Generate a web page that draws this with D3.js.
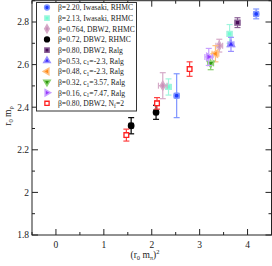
<!DOCTYPE html>
<html><head><meta charset="utf-8">
<script src="https://cdn.jsdelivr.net/npm/d3@7"></script>
<style>body{margin:0;background:#fff}svg{display:block}text{font-family:"Liberation Serif","Times New Roman",serif}</style>
</head><body><svg id="c" width="272" height="266"></svg>
<script>
// data: [x, y, xerr, yerr]
const iwasaki220 = [[4.18, 2.838, 0.05, 0.023], [2.52, 2.454, 0.05, 0.103]];
const iwasaki213 = [[3.625, 2.744, 0.05, 0.044], [2.35, 2.495, 0.06, 0.038]];
const dbw2_0764 = [[3.41, 2.689, 0.07, 0.03], [2.23, 2.501, 0.09, 0.061]];
const dbw2_072 = [[1.57, 2.313, 0.04, 0.038], [2.09, 2.376, 0.04, 0.033]];
const dbw2_080ralg = [[3.79, 2.797, 0.05, 0.023]];
const c1_053 = [[3.654, 2.695, 0.06, 0.033]];
const c1_048 = [[3.33, 2.651, 0.07, 0.038]];
const c1_032 = [[3.23, 2.606, 0.06, 0.03]];
const c1_016 = [[3.19, 2.636, 0.08, 0.04]];
const dbw2_nf2 = [[1.47, 2.269, 0.04, 0.028], [2.11, 2.418, 0.04, 0.027], [2.79, 2.579, 0.04, 0.034]];

const seriesLabels = [
  ["β=2.20, Iwasaki, RHMC"],
  ["β=2.13, Iwasaki, RHMC"],
  ["β=0.764, DBW2, RHMC"],
  ["β=0.72, DBW2, RHMC"],
  ["β=0.80, DBW2, Ralg"],
  ["β=0.53, c", "1", "=-2.3, Ralg"],
  ["β=0.48, c", "1", "=-2.3, Ralg"],
  ["β=0.32, c", "1", "=3.57, Ralg"],
  ["β=0.16, c", "1", "=7.47, Ralg"],
  ["β=0.80, DBW2, N", "f", "=2"]
];
const seriesData = [iwasaki220, iwasaki213, dbw2_0764, dbw2_072, dbw2_080ralg, c1_053, c1_048, c1_032, c1_016, dbw2_nf2];
const xTicks = [0, 1, 2, 3, 4];
const yTicks = [1.8, 2.0, 2.2, 2.4, 2.6, 2.8];

const styles = [
  {c: "#1f3dff", e: "#7f95ff", sym: d3.symbolCircle, fill: true},
  {c: "#6fffd0", e: "#9ff5dd", sym: d3.symbolSquare, fill: true},
  {c: "#c88fb8", e: "#d6aac8", sym: d3.symbolDiamond, fill: true},
  {c: "#000000", e: "#000000", sym: d3.symbolCircle, fill: true},
  {c: "#4a0f5a", e: "#8a6095", sym: d3.symbolSquare, fill: true},
  {c: "#3a2cff", e: "#9a90ff", sym: d3.symbolTriangle, fill: true, rot: 0},
  {c: "#ff8a1a", e: "#ffc080", sym: d3.symbolTriangle, fill: true, rot: -90},
  {c: "#2f9a10", e: "#8ad070", sym: d3.symbolTriangle, fill: true, rot: 180},
  {c: "#9a3cff", e: "#c8a0ff", sym: d3.symbolTriangle, fill: true, rot: 90},
  {c: "#ff2020", e: "#ff4040", sym: d3.symbolSquare, fill: false}
];

const svg = d3.select("#c");
const L = 32, R = 271.5, T = 0.7, B = 235;
const x = d3.scaleLinear().domain([-0.5, 4.5]).range([L, R]);
const y = d3.scaleLinear().domain([1.8, 2.9]).range([B, T]);

// frame
svg.append("rect").attr("x", L).attr("y", T).attr("width", R - L).attr("height", B - T)
  .attr("fill", "none").attr("stroke", "#222").attr("stroke-width", 1);

// ticks
const xMinor = d3.range(-0.5, 4.51, 0.5);
const yMinor = d3.range(1.8, 2.91, 0.1);
const tk = svg.append("g").attr("stroke", "#222").attr("stroke-width", 1);
xMinor.forEach(v => {
  const major = Math.abs(v - Math.round(v)) < 1e-6;
  const len = major ? 6 : 3;
  tk.append("line").attr("x1", x(v)).attr("x2", x(v)).attr("y1", B).attr("y2", B - len);
  tk.append("line").attr("x1", x(v)).attr("x2", x(v)).attr("y1", T).attr("y2", T + len);
});
yMinor.forEach(v => {
  const major = Math.abs(v * 5 - Math.round(v * 5)) < 1e-6;
  const len = major ? 6 : 3;
  tk.append("line").attr("y1", y(v)).attr("y2", y(v)).attr("x1", L).attr("x2", L + len);
  tk.append("line").attr("y1", y(v)).attr("y2", y(v)).attr("x1", R).attr("x2", R - len);
});

svg.append("g").selectAll("text").data(xTicks).join("text")
  .attr("x", d => x(d)).attr("y", 248).attr("text-anchor", "middle")
  .attr("font-size", 9.5).attr("fill", "#222").text(d => d);
svg.append("g").selectAll("text").data(yTicks).join("text")
  .attr("x", 29).attr("y", d => y(d) + 3.3).attr("text-anchor", "end")
  .attr("font-size", 9.5).attr("fill", "#222").text(d => d3.format("~g")(d));

// axis titles
const xt = svg.append("text").attr("x", 145).attr("y", 258).attr("text-anchor", "middle")
  .attr("font-size", 9.5).attr("fill", "#222");
xt.append("tspan").text("(r");
xt.append("tspan").attr("font-size", 6.5).attr("dy", 2).text("0");
xt.append("tspan").attr("dy", -2).text(" m");
xt.append("tspan").attr("font-size", 6.5).attr("dy", 2).text("π");
xt.append("tspan").attr("dy", -2).text(")");
xt.append("tspan").attr("font-size", 6.5).attr("dy", -4).text("2");

const yt = svg.append("text").attr("transform", "translate(11,116) rotate(-90)")
  .attr("text-anchor", "middle").attr("font-size", 9.5).attr("fill", "#222");
yt.append("tspan").text("r");
yt.append("tspan").attr("font-size", 6.5).attr("dy", 2).text("0");
yt.append("tspan").attr("dy", -2).text(" m");
yt.append("tspan").attr("font-size", 6.5).attr("dy", 2).text("ρ");

// data
const sz = 22;
function marker(g, s, cx, cy, size) {
  g.append("path")
    .attr("d", d3.symbol().type(s.sym).size(size)())
    .attr("transform", `translate(${cx},${cy}) rotate(${s.rot || 0})`)
    .attr("fill", s.fill ? s.c : "#fff")
    .attr("stroke", s.fill ? s.e : s.c)
    .attr("stroke-width", s.fill ? 1.5 : 1.3);
}
const pg = svg.append("g");
seriesData.forEach((pts, i) => {
  const s = styles[i];
  pts.forEach(p => {
    const g = pg.append("g");
    const px = x(p[0]), py = y(p[1]);
    const x0 = x(p[0] - p[2]), x1 = x(p[0] + p[2]);
    const y0 = y(p[1] - p[3]), y1 = y(p[1] + p[3]);
    const cap = 3;
    const ew = 1.2;
    g.append("line").attr("x1", px).attr("x2", px).attr("y1", y0).attr("y2", y1).attr("stroke", s.e).attr("stroke-width", ew);
    g.append("line").attr("x1", px - cap).attr("x2", px + cap).attr("y1", y0).attr("y2", y0).attr("stroke", s.e).attr("stroke-width", ew);
    g.append("line").attr("x1", px - cap).attr("x2", px + cap).attr("y1", y1).attr("y2", y1).attr("stroke", s.e).attr("stroke-width", ew);
    g.append("line").attr("x1", x0).attr("x2", x1).attr("y1", py).attr("y2", py).attr("stroke", s.e).attr("stroke-width", ew);
    g.append("line").attr("x1", x0).attr("x2", x0).attr("y1", py - cap).attr("y2", py + cap).attr("stroke", s.e).attr("stroke-width", ew);
    g.append("line").attr("x1", x1).attr("x2", x1).attr("y1", py - cap).attr("y2", py + cap).attr("stroke", s.e).attr("stroke-width", ew);
    marker(g, s, px, py, sz);
  });
});

// legend
const lg = svg.append("g");
lg.append("rect").attr("x", 36.5).attr("y", 2.5).attr("width", 100).attr("height", 108.5)
  .attr("fill", "#fff").attr("stroke", "#333").attr("stroke-width", 1);
seriesLabels.forEach((lab, i) => {
  const s = styles[i];
  const ly = 7.5 + i * 10.65;
  marker(lg, s, 47, ly, 18);
  const t = lg.append("text").attr("x", 58).attr("y", ly + 2.8).attr("font-size", 7.6).attr("fill", "#222");
  t.append("tspan").text(lab[0]);
  if (lab.length > 1) {
    t.append("tspan").attr("font-size", 5.5).attr("dy", 1.8).text(lab[1]);
    t.append("tspan").attr("dy", -1.8).text(lab[2]);
  }
});
</script></body></html>
